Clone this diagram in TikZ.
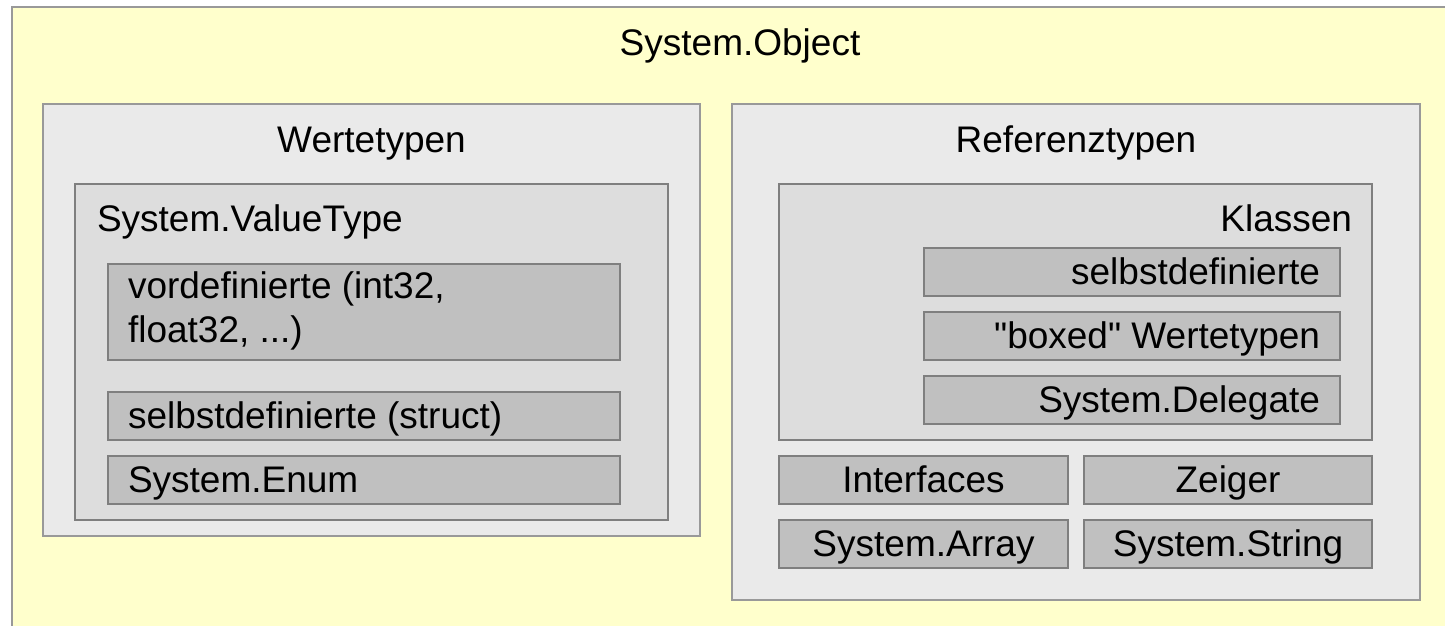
\documentclass[tikz,border=0pt]{standalone}
\usepackage{fontspec}
\setmainfont{Liberation Sans}[Ligatures=TeXOff]
\usetikzlibrary{calc}
\definecolor{bgyellow}{HTML}{FFFFCC}
\definecolor{outerline}{HTML}{999999}
\definecolor{panelfill}{HTML}{EAEAEA}
\definecolor{groupfill}{HTML}{DDDDDD}
\definecolor{leaffill}{HTML}{C0C0C0}
\definecolor{innerline}{HTML}{7F7F7F}
\begin{document}
\begin{tikzpicture}[x=1pt,y=-1pt,
  boxbase/.style={rectangle, inner sep=0pt, outer sep=0pt, anchor=north west, line width=1.6pt},
  outerbox/.style={boxbase, draw=outerline, fill=bgyellow, line width=1.8pt},
  panel/.style={boxbase, draw=outerline, fill=panelfill},
  groupbox/.style={boxbase, draw=innerline, fill=groupfill},
  leaf/.style={boxbase, draw=innerline, fill=leaffill},
  lbl/.style={inner sep=0pt, outer sep=0pt, font=\fontsize{37}{44}\selectfont}]
\useasboundingbox (0,0) rectangle (1445,626);
% outer
\node[outerbox, minimum width=1450pt, minimum height=640pt] (object) at (12,7) {};
\node[lbl, anchor=base] (objectlbl) at (740,56) {System.Object};
% Wertetypen
\node[panel, minimum width=657pt, minimum height=432pt] (wert) at (43,104) {};
\node[lbl, anchor=base] (wertlbl) at (371.5,152) {Wertetypen};
\node[groupbox, minimum width=593pt, minimum height=336pt] (valtype) at (75,184) {};
\node[lbl, anchor=base west] (valtypelbl) at (97,231) {System.ValueType};
\node[leaf, minimum width=512pt, minimum height=96pt] (vordef) at (108,264) {};
\node[lbl, anchor=west, align=left] (vordeflbl) at (128,311) {vordefinierte (int32,\\float32, ...)};
\node[leaf, minimum width=512pt, minimum height=48pt] (structb) at (108,392) {};
\node[lbl, anchor=base west] (structlbl) at (128,428) {selbstdefinierte (struct)};
\node[leaf, minimum width=512pt, minimum height=48pt] (enumb) at (108,456) {};
\node[lbl, anchor=base west] (enumlbl) at (128,492) {System.Enum};
% Referenztypen
\node[panel, minimum width=688pt, minimum height=496pt] (ref) at (732,104) {};
\node[lbl, anchor=base] (reflbl) at (1076,152) {Referenztypen};
\node[groupbox, minimum width=593pt, minimum height=256pt] (klassen) at (779,184) {};
\node[lbl, anchor=base east] (klassenlbl) at (1352,231) {Klassen};
\node[leaf, minimum width=416pt, minimum height=48pt] (selbst) at (924,248) {};
\node[lbl, anchor=base east] (selbstlbl) at (1320,284) {selbstdefinierte};
\node[leaf, minimum width=416pt, minimum height=48pt] (boxed) at (924,312) {};
\node[lbl, anchor=base east] (boxedlbl) at (1320,348) {"boxed" Wertetypen};
\node[leaf, minimum width=416pt, minimum height=48pt] (deleg) at (924,376) {};
\node[lbl, anchor=base east] (deleglbl) at (1320,412) {System.Delegate};
\node[leaf, minimum width=289pt, minimum height=48pt] (iface) at (779,456) {};
\node[lbl, anchor=base] (ifacelbl) at ($(iface.center)+(0,12)$) {Interfaces};
\node[leaf, minimum width=288pt, minimum height=48pt] (zeiger) at (1084,456) {};
\node[lbl, anchor=base] (zeigerlbl) at ($(zeiger.center)+(0,12)$) {Zeiger};
\node[leaf, minimum width=289pt, minimum height=48pt] (array) at (779,520) {};
\node[lbl, anchor=base] (arraylbl) at ($(array.center)+(0,12)$) {System.Array};
\node[leaf, minimum width=288pt, minimum height=48pt] (string) at (1084,520) {};
\node[lbl, anchor=base] (stringlbl) at ($(string.center)+(0,12)$) {System.String};
\end{tikzpicture}
\end{document}
